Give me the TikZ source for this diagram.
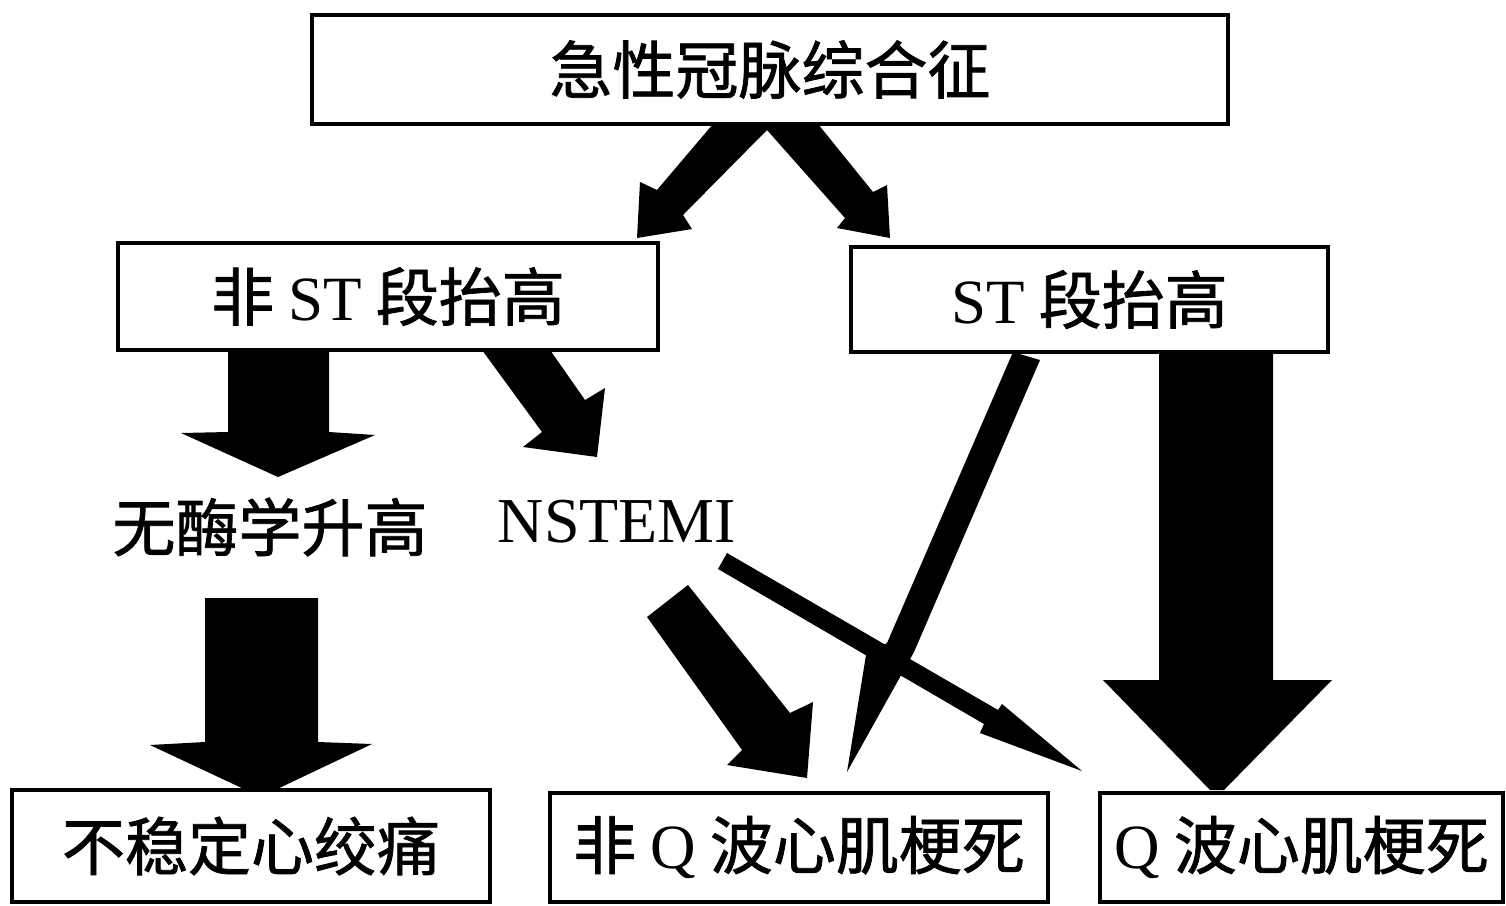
\documentclass[tikz,border=0pt]{standalone}
\usepackage{fontspec}
\setmainfont{Liberation Serif}
\newfontfamily\cjk[FakeBold=1.2]{Noto Sans CJK SC}
\begin{document}
\begin{tikzpicture}[x=1pt,y=-1pt,
  box/.style={draw, line width=4pt, fill=white, inner sep=0pt, font=\cjk\fontsize{63}{70}\selectfont},
  lbl/.style={inner sep=0pt, font=\cjk\fontsize{63}{70}\selectfont},
  blk/.style={fill=black}]
\useasboundingbox (0,0) rectangle (1506,905);
% block arrows
\fill[blk] (713,124) -- (767,124) -- (767,130) -- (683,215) -- (692,229) -- (637,238) -- (640,182) -- (657,190) -- cycle;
\fill[blk] (767,124) -- (818,124) -- (873,192) -- (887,185) -- (890,238) -- (837,228) -- (845,218) -- (767,130) -- cycle;
\fill[blk] (228,350) -- (329,350) -- (329,432) -- (375,435) -- (278,477) -- (181,433) -- (228,432) -- cycle;
\fill[blk] (482,350) -- (550,350) -- (585,400) -- (605,388) -- (597,457) -- (523,447) -- (542,432) -- cycle;
\fill[blk] (205,598) -- (318,598) -- (318,742) -- (372,744) -- (275,790) -- (246,790) -- (150,745) -- (205,742) -- cycle;
\fill[blk] (647,617) -- (688,585) -- (790,713) -- (813,702) -- (807,778) -- (727,765) -- (742,750) -- cycle;
\fill[blk] (1013,352) -- (1040,360) -- (914,652) -- (847,772) -- (866,655) -- (887,643) -- cycle;
\fill[blk] (727,553) -- (998,710) -- (1002,704) -- (1082,771) -- (980,733) -- (984,724) -- (718,569) -- cycle;
\fill[blk] (1159,352) -- (1273,352) -- (1273,680) -- (1332,680) -- (1224,790) -- (1210,790) -- (1103,680) -- (1159,680) -- cycle;
% boxes
\node[box, minimum width=916pt, minimum height=109pt] (acs) at (770,69.5) {急性冠脉综合征};
\node[box, minimum width=540pt, minimum height=107pt] (nst) at (388,296.5) {非 {\rmfamily ST} 段抬高};
\node[box, minimum width=477pt, minimum height=105pt] (st) at (1089.5,299.5) {{\rmfamily ST} 段抬高};
\node[box, minimum width=478pt, minimum height=112pt] (ua) at (251,846) {不稳定心绞痛};
\node[box, minimum width=498pt, minimum height=109pt] (nq) at (799,847.5) {非 {\rmfamily Q} 波心肌梗死};
\node[box, minimum width=403pt, minimum height=109pt] (qmi) at (1301.5,847.5) {{\rmfamily Q} 波心肌梗死};
% labels
\node[lbl] (noenz) at (270,527) {无酶学升高};
\node[lbl, font=\rmfamily\fontsize{64}{70}\selectfont] (nstemi) at (617,522) {NSTEMI};
\end{tikzpicture}
\end{document}
